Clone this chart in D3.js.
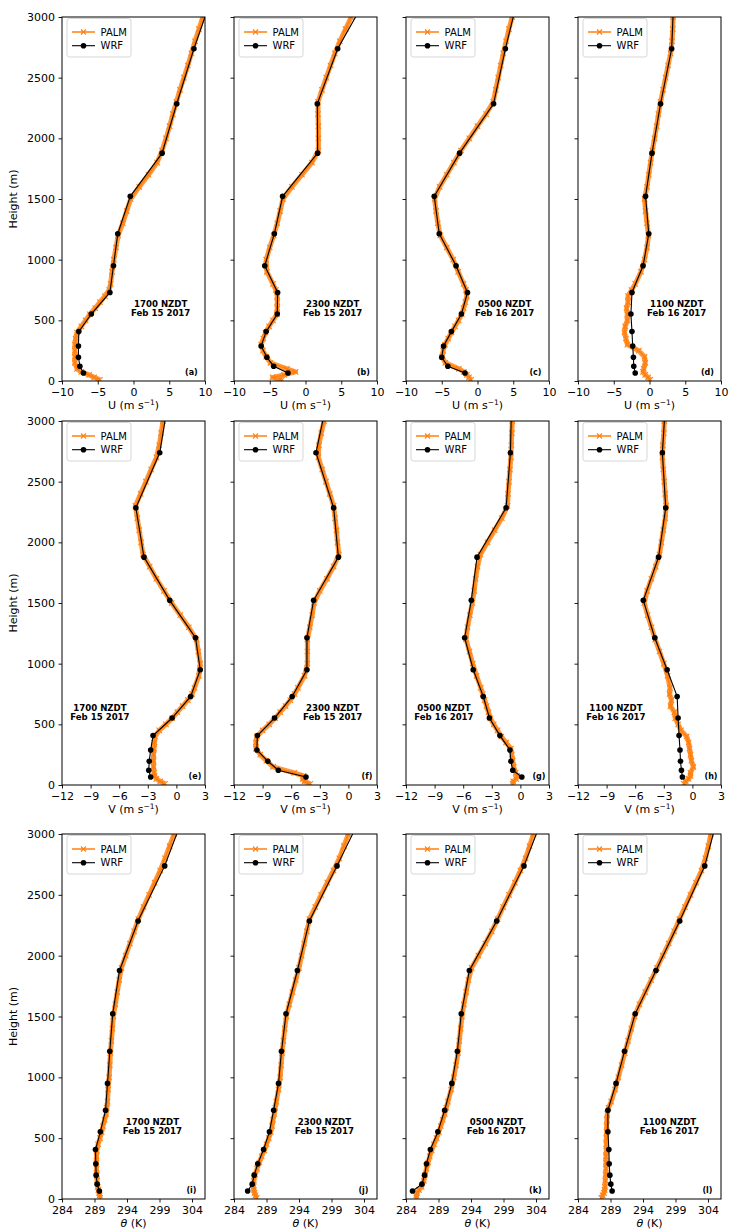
<!DOCTYPE html>
<html>
<head>
<meta charset="utf-8">
<script src="https://cdn.jsdelivr.net/npm/d3@7"></script>
<style>
  body { margin: 0; background: #fff; }
  text { font-family: "DejaVu Sans", sans-serif; }
</style>
</head>
<body>
<svg id="fig" width="732" height="1232"></svg>
<script>
// ---- vertical levels (m) ----
const wrfHeights = [66, 122, 196, 289, 407, 552, 730, 950, 1214, 1522, 1878, 2285, 2738, 3240];
const palmHeights = [10, 30, 50, 75, 100, 150, 200, 250, 300, 350, 400, 450, 500, 550, 600, 650, 700, 750, 800,
  900, 1000, 1100, 1200, 1300, 1400, 1500, 1600, 1700, 1800, 1900, 2000, 2100, 2200, 2300, 2400, 2500, 2600, 2700, 2800, 2900, 3000];

// ---- times / labels ----
const times = ["1700 NZDT", "2300 NZDT", "0500 NZDT", "1100 NZDT"];
const dates = ["Feb 15 2017", "Feb 15 2017", "Feb 16 2017", "Feb 16 2017"];
const panelTags = ["(a)", "(b)", "(c)", "(d)", "(e)", "(f)", "(g)", "(h)", "(i)", "(j)", "(k)", "(l)"];
const heightTicks = [0, 500, 1000, 1500, 2000, 2500, 3000];
const uTicks = [-10, -5, 0, 5, 10];
const vTicks = [-12, -9, -6, -3, 0, 3];
const thetaTicks = [284, 289, 294, 299, 304];
const uDomain = [-10, 10];
const vDomain = [-12, 3];
const thetaDomain = [284, 306];

// ---- U wind (m/s) ----
const uWrf1700 = [-7.0, -7.5, -7.7, -7.7, -7.65, -5.9, -3.3, -2.8, -2.2, -0.45, 4.0, 6.05, 8.45, 11.4];
const uWrf2300 = [-2.45, -4.45, -5.4, -6.2, -5.5, -3.95, -3.9, -5.7, -4.35, -3.2, 1.7, 1.65, 4.5, 9.3];
const uWrf0500 = [-1.75, -4.15, -5.0, -4.75, -3.65, -2.25, -1.4, -3.0, -5.35, -6.05, -2.5, 2.25, 3.9, 6.0];
const uWrf1100 = [-2.0, -2.2, -2.25, -2.35, -2.45, -2.6, -2.45, -0.9, -0.1, -0.55, 0.35, 1.55, 3.1, 3.45];

const uPalm1700 = [-4.7, -5.5, -6.2, -7.3, -7.9,
  -8.2, -8.2, -8.2, -8.2, -8.1, -7.9, -7.3, -6.7, -6.1, -5.35, -4.7, -4.0, -3.4, -3.2,
  -3.0, -2.75, -2.45, -2.15, -1.5, -0.95, -0.4, 0.8, 2.1, 3.3, 4.0, 4.55, 5.05, 5.5, 6.0, 6.5, 7.05, 7.6, 8.1, 8.6, 9.15, 9.7];
const uPalm2300 = [-3.3, -4.6, -3.0, -1.4, -2.6,
  -4.9, -5.5, -5.95, -6.2, -5.9, -5.6, -5.1, -4.55, -4.0, -3.95, -3.95, -3.95, -4.15, -4.55,
  -5.4, -5.5, -5.0, -4.45, -3.95, -3.55, -3.15, -1.9, -0.5, 0.9, 1.8, 1.8, 1.8, 1.75, 1.75, 2.3, 2.9, 3.5, 4.1, 4.8, 5.6, 6.4];
const uPalm0500 = [-0.9, -1.2, -1.5, -1.9, -2.6,
  -4.5, -4.95, -4.8, -4.55, -4.1, -3.65, -3.15, -2.65, -2.2, -1.95, -1.7, -1.5, -1.6, -1.95,
  -2.7, -3.4, -4.3, -5.2, -5.55, -5.8, -6.0, -5.3, -4.3, -3.3, -2.3, -1.15, 0.0, 1.2, 2.2, 2.55, 2.9, 3.25, 3.6, 4.0, 4.4, 4.85];
const uPalm1100 = [0.1, -0.2, -0.6, -0.9, -0.8,
  -0.6, -0.7, -1.5, -3.1, -3.3, -3.5, -3.4, -3.1, -3.1, -3.2, -3.0, -3.0, -2.5, -2.0,
  -1.2, -0.7, -0.35, -0.15, -0.35, -0.55, -0.7, -0.35, -0.1, 0.15, 0.4, 0.7, 1.0, 1.25, 1.55, 1.9, 2.25, 2.6, 2.95, 3.15, 3.25, 3.3];

// ---- V wind (m/s) ----
const vWrf1700 = [-2.7, -2.9, -2.85, -2.7, -2.45, -0.45, 1.5, 2.5, 2.0, -0.7, -3.4, -4.25, -1.75, -0.7];
const vWrf2300 = [-4.45, -7.35, -8.45, -9.6, -9.55, -7.75, -5.9, -4.35, -4.35, -3.65, -1.05, -1.55, -3.4, -2.05];
const vWrf0500 = [0.15, -0.8, -1.0, -1.1, -2.15, -3.25, -3.9, -4.95, -5.85, -5.15, -4.55, -1.5, -1.05, -0.9];
const vWrf1100 = [-1.05, -1.15, -1.25, -1.3, -1.4, -1.5, -1.6, -2.65, -3.95, -5.15, -3.55, -2.8, -3.15, -2.75];

const vPalm1700 = [-1.2, -1.7, -2.1, -2.3, -2.35,
  -2.4, -2.4, -2.4, -2.35, -2.3, -2.25, -1.8, -1.1, -0.45, 0.1, 0.65, 1.2, 1.65, 1.9,
  2.35, 2.5, 2.3, 2.1, 1.3, 0.4, -0.5, -1.3, -2.1, -2.8, -3.5, -3.7, -3.9, -4.1, -4.3, -3.75, -3.2, -2.65, -2.1, -1.8, -1.6, -1.4];
const vPalm2300 = [-4.0, -4.6, -4.8, -4.7, -5.7,
  -7.9, -8.6, -9.25, -9.7, -9.7, -9.6, -9.0, -8.3, -7.7, -7.15, -6.6, -6.1, -5.65, -5.3,
  -4.6, -4.3, -4.3, -4.3, -4.05, -3.8, -3.6, -3.0, -2.25, -1.55, -1.0, -1.15, -1.25, -1.4, -1.55, -1.95, -2.35, -2.75, -3.15, -3.1, -2.85, -2.55];
const vPalm0500 = [-0.8, -0.75, -0.45, -0.35, -0.5,
  -0.7, -0.8, -0.9, -1.0, -1.5, -2.0, -2.4, -2.8, -3.15, -3.35, -3.55, -3.75, -3.95, -4.15,
  -4.6, -5.0, -5.35, -5.7, -5.55, -5.3, -5.05, -4.85, -4.7, -4.5, -4.2, -3.45, -2.7, -1.95, -1.35, -1.3, -1.2, -1.1, -1.0, -0.95, -0.9, -0.85];
const vPalm1100 = [-0.9, -0.7, -0.4, -0.2, -0.2,
  0.1, -0.1, -0.2, -0.3, -0.4, -0.6, -1.2, -1.5, -1.8, -1.9, -2.3, -2.2, -2.4, -2.35,
  -2.6, -3.0, -3.45, -3.9, -4.3, -4.7, -5.05, -4.75, -4.3, -3.85, -3.45, -3.25, -3.05, -2.85, -2.75, -2.85, -2.95, -3.05, -3.15, -3.1, -3.0, -2.95];

// ---- potential temperature (K) ----
const thWrf1700 = [289.75, 289.4, 289.25, 289.2, 289.15, 289.9, 290.7, 291.0, 291.35, 291.8, 292.85, 295.7, 299.8, 303.35];
const thWrf2300 = [286.1, 286.8, 287.1, 287.65, 288.55, 289.45, 290.1, 290.85, 291.3, 292.0, 293.75, 295.6, 299.85, 304.45];
const thWrf0500 = [285.0, 286.45, 286.85, 287.15, 287.75, 288.9, 289.95, 291.05, 291.9, 292.5, 293.75, 297.95, 302.15, 305.8];
const thWrf1100 = [289.25, 289.05, 288.9, 288.8, 288.75, 288.6, 288.6, 289.85, 291.15, 292.8, 296.0, 299.65, 303.5, 306.0];

const thPalm1700 = [289.85, 289.8, 289.7, 289.6, 289.5,
  289.4, 289.35, 289.3, 289.3, 289.3, 289.35, 289.55, 289.85, 290.1, 290.3, 290.55, 290.8, 290.9, 291.0,
  291.1, 291.25, 291.35, 291.45, 291.6, 291.75, 291.9, 292.2, 292.5, 292.8, 293.15, 293.8, 294.45, 295.1, 295.75, 296.55, 297.4, 298.25, 299.1, 299.85, 300.55, 301.25];
const thPalm2300 = [287.5, 287.3, 287.15, 287.05, 287.0,
  287.05, 287.25, 287.55, 287.9, 288.25, 288.65, 289.0, 289.35, 289.65, 289.85, 290.0, 290.2, 290.35, 290.5,
  290.85, 291.1, 291.25, 291.4, 291.6, 291.8, 292.05, 292.5, 293.0, 293.5, 294.0, 294.4, 294.8, 295.2, 295.6, 296.5, 297.4, 298.35, 299.3, 300.2, 300.9, 301.6];
const thPalm0500 = [285.6, 285.6, 285.7, 286.0, 286.4,
  286.75, 286.95, 287.15, 287.4, 287.65, 287.95, 288.3, 288.7, 289.05, 289.35, 289.65, 289.95, 290.2, 290.45,
  290.95, 291.35, 291.7, 292.0, 292.2, 292.4, 292.6, 292.9, 293.25, 293.6, 294.1, 295.15, 296.2, 297.2, 298.1, 298.95, 299.85, 300.75, 301.6, 302.4, 303.0, 303.6];
const thPalm1100 = [287.6, 287.8, 288.0, 288.1, 288.15,
  288.2, 288.25, 288.3, 288.3, 288.3, 288.35, 288.35, 288.35, 288.4, 288.4, 288.45, 288.5, 288.7, 289.1,
  289.7, 290.2, 290.7, 291.2, 291.7, 292.2, 292.7, 293.45, 294.35, 295.25, 296.15, 297.05, 297.95, 298.8, 299.6, 300.45, 301.3, 302.15, 303.0, 303.6, 304.05, 304.45];

// ---- figure layout ----
const PALM_COLOR = "#ff7f0e";
const colLeft = [62, 234, 406, 578];
const rowTop = [17, 421, 834];
const rowHeight = [364, 364, 365];
const panelWidth = 143;

// horizontal placement (axes fraction) of the time stamp in each panel
const rows = [
  { quantity: "U", ticks: uTicks, domain: uDomain, annX: [0.69, 0.69, 0.69, 0.69], tagX: 0.905,
    wrf: [uWrf1700, uWrf2300, uWrf0500, uWrf1100], palm: [uPalm1700, uPalm2300, uPalm0500, uPalm1100] },
  { quantity: "V", ticks: vTicks, domain: vDomain, annX: [0.265, 0.69, 0.265, 0.265], tagX: 0.93,
    wrf: [vWrf1700, vWrf2300, vWrf0500, vWrf1100], palm: [vPalm1700, vPalm2300, vPalm0500, vPalm1100] },
  { quantity: "theta", ticks: thetaTicks, domain: thetaDomain, annX: [0.632, 0.632, 0.632, 0.64], tagX: 0.905,
    wrf: [thWrf1700, thWrf2300, thWrf0500, thWrf1100], palm: [thPalm1700, thPalm2300, thPalm0500, thPalm1100] }
];

const svg = d3.select("#fig");
const xMark = s => `M${-s},${-s}L${s},${s}M${-s},${s}L${s},${-s}`;

rows.forEach((row, r) => {
  for (let c = 0; c < 4; c++) {
    const idx = r * 4 + c;
    const left = colLeft[c], top = rowTop[r], h = rowHeight[r], w = panelWidth;
    const x = d3.scaleLinear().domain(row.domain).range([0, w]);
    const y = d3.scaleLinear().domain([0, 3000]).range([h, 0]);
    const g = svg.append("g").attr("transform", `translate(${left},${top})`);

    const clipId = `clip${idx}`;
    g.append("clipPath").attr("id", clipId)
      .append("rect").attr("width", w).attr("height", h);

    const plot = g.append("g").attr("clip-path", `url(#${clipId})`);

    // PALM profile: dense marker band
    const palmPts = palmHeights.map((z, i) => [row.palm[c][i], z]);
    const line = d3.line().x(d => x(d[0])).y(d => y(d[1]));
    plot.append("path").datum(palmPts).attr("d", line)
      .attr("fill", "none").attr("stroke", PALM_COLOR).attr("stroke-width", 5)
      .attr("stroke-opacity", 0.8).attr("stroke-linejoin", "round");
    plot.append("path").datum(palmPts).attr("d", line)
      .attr("fill", "none").attr("stroke", PALM_COLOR).attr("stroke-width", 1.5);
    plot.selectAll(".pm").data(palmPts).join("path")
      .attr("transform", d => `translate(${x(d[0])},${y(d[1])})`)
      .attr("d", xMark(2.7)).attr("stroke", PALM_COLOR).attr("stroke-width", 1.1).attr("fill", "none");

    // WRF profile
    const wrfPts = wrfHeights.map((z, i) => [row.wrf[c][i], z]);
    plot.append("path").datum(wrfPts).attr("d", line)
      .attr("fill", "none").attr("stroke", "#000").attr("stroke-width", 1.1);
    plot.selectAll(".wm").data(wrfPts).join("circle")
      .attr("cx", d => x(d[0])).attr("cy", d => y(d[1])).attr("r", 2.8).attr("fill", "#000");

    // axes
    const xa = g.append("g").attr("transform", `translate(0,${h})`)
      .call(d3.axisBottom(x).tickValues(row.ticks).tickSize(3.5).tickPadding(3.5).tickFormat(d3.format("d")));
    const ya = g.append("g")
      .call(d3.axisLeft(y).tickValues(heightTicks).tickSize(3.5).tickPadding(3.5)
        .tickFormat(c === 0 ? d3.format("d") : ""));
    [xa, ya].forEach(a => {
      a.select(".domain").remove();
      a.selectAll("line").attr("stroke", "#000").attr("stroke-width", 0.9);
      a.selectAll("text").attr("font-size", 11).attr("fill", "#000")
        .attr("font-family", "DejaVu Sans, sans-serif");
    });

    g.append("rect").attr("width", w).attr("height", h)
      .attr("fill", "none").attr("stroke", "#000").attr("stroke-width", 1);

    // x-axis title
    const xt = g.append("text").attr("x", w / 2).attr("y", h + 28)
      .attr("text-anchor", "middle").attr("font-size", 11);
    if (row.quantity === "theta") {
      xt.append("tspan").attr("font-style", "italic").text("θ");
      xt.append("tspan").text(" (K)");
    } else {
      xt.append("tspan").text(`${row.quantity} (m s`);
      xt.append("tspan").attr("font-size", 7.5).attr("dy", -4.5).text("−1");
      xt.append("tspan").attr("dy", 4.5).text(")");
    }

    if (c === 0) {
      g.append("text").attr("transform", `translate(-45,${h / 2}) rotate(-90)`)
        .attr("text-anchor", "middle").attr("font-size", 11).text("Height (m)");
    }

    // time stamp
    const ax = row.annX[c] * w, ay = h * 0.8;
    g.append("text").attr("x", ax).attr("y", ay - 1.5).attr("text-anchor", "middle")
      .attr("font-size", 8.6).attr("font-weight", "bold").text(times[c]);
    g.append("text").attr("x", ax).attr("y", ay + 8.2).attr("text-anchor", "middle")
      .attr("font-size", 8.6).attr("font-weight", "bold").text(dates[c]);

    // panel tag
    g.append("text").attr("x", row.tagX * w).attr("y", h - 6).attr("text-anchor", "middle")
      .attr("font-size", 8).attr("font-weight", "bold").text(panelTags[idx]);

    // legend
    const lg = g.append("g").attr("transform", "translate(5,1.5)");
    lg.append("rect").attr("width", 64).attr("height", 38.5).attr("rx", 2.5)
      .attr("fill", "#fff").attr("fill-opacity", 0.8).attr("stroke", "#cccccc").attr("stroke-width", 0.8);
    lg.append("line").attr("x1", 5).attr("x2", 28).attr("y1", 13.5).attr("y2", 13.5)
      .attr("stroke", PALM_COLOR).attr("stroke-width", 1.5);
    lg.append("path").attr("transform", "translate(16.5,13.5)").attr("d", xMark(2.5))
      .attr("stroke", PALM_COLOR).attr("stroke-width", 1.1);
    lg.append("text").attr("x", 33.5).attr("y", 17.2).attr("font-size", 10).text("PALM");
    lg.append("line").attr("x1", 5).attr("x2", 28).attr("y1", 27.2).attr("y2", 27.2)
      .attr("stroke", "#000").attr("stroke-width", 1.1);
    lg.append("circle").attr("cx", 16.5).attr("cy", 27.2).attr("r", 2.8).attr("fill", "#000");
    lg.append("text").attr("x", 33.5).attr("y", 30.9).attr("font-size", 10).text("WRF");
  }
});
</script>
</body>
</html>
